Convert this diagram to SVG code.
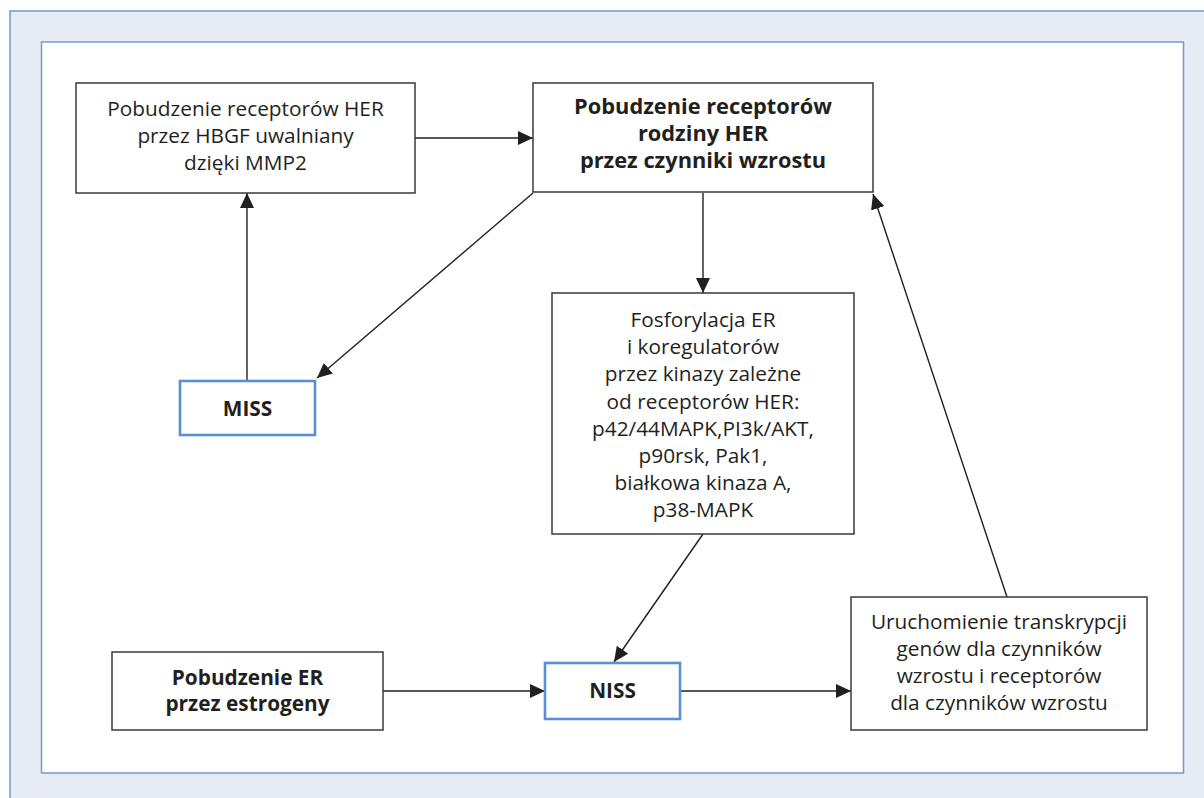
<svg xmlns="http://www.w3.org/2000/svg" width="1204" height="798" viewBox="0 0 1204 798">
<style>
.box{fill:#fff;stroke:#3a3a3a;stroke-width:1.5}
.hl{fill:#fff;stroke:#5b8fd0;stroke-width:2.6}
.t{font-family:"Open Sans","Liberation Sans",sans-serif;font-size:20.8px;fill:#231f20;text-anchor:middle}
.b{font-weight:bold}
.big{font-size:21.8px}
.c{stroke:#231f20;stroke-width:1.4;fill:none;marker-end:url(#ah)}
</style>
<defs>
<marker id="ah" markerUnits="userSpaceOnUse" markerWidth="16" markerHeight="14" refX="15" refY="7" orient="auto">
<path d="M0,0 L15,7 L0,14 Z" fill="#231f20"/>
</marker>
</defs>
<rect x="0" y="0" width="1204" height="798" fill="#fff"/>
<rect x="10" y="11" width="1204" height="798" fill="#e7ebf4" stroke="#6f9ad0" stroke-width="1.5"/>
<rect x="41.5" y="42" width="1142" height="731" fill="#fff" stroke="#6f9ad0" stroke-width="1.5"/>

<g id="connectors">
<line class="c" x1="415" y1="138" x2="533" y2="138"/>
<line class="c" x1="247" y1="381" x2="247" y2="193"/>
<line class="c" x1="533" y1="193" x2="317" y2="378"/>
<line class="c" x1="703" y1="193" x2="703" y2="293"/>
<line class="c" x1="703" y1="534" x2="614" y2="662"/>
<line class="c" x1="383" y1="691" x2="545" y2="691"/>
<line class="c" x1="680" y1="691" x2="851" y2="691"/>
<line class="c" x1="1007" y1="597" x2="873" y2="194"/>
</g>

<g id="n_hbgf">
<rect class="box" x="76" y="83" width="339" height="110"/>
<text class="t" x="245.5" y="116">Pobudzenie receptorów HER</text>
<text class="t" x="245.5" y="143">przez HBGF uwalniany</text>
<text class="t" x="245.5" y="170">dzięki MMP2</text>
</g>

<g id="n_her">
<rect class="box" x="533" y="83" width="340" height="109"/>
<text class="t b big" x="703" y="114">Pobudzenie receptorów</text>
<text class="t b big" x="703" y="141">rodziny HER</text>
<text class="t b big" x="703" y="168">przez czynniki wzrostu</text>
</g>

<g id="n_miss">
<rect class="hl" x="180" y="381" width="135" height="54"/>
<text class="t b" x="247.5" y="416">MISS</text>
</g>

<g id="n_fosf">
<rect class="box" x="552" y="293" width="302" height="241"/>
<text class="t" x="703" y="327">Fosforylacja ER</text>
<text class="t" x="703" y="354">i koregulatorów</text>
<text class="t" x="703" y="381">przez kinazy zależne</text>
<text class="t" x="703" y="409">od receptorów HER:</text>
<text class="t" x="703" y="436">p42/44MAPK,PI3k/AKT,</text>
<text class="t" x="703" y="463">p90rsk, Pak1,</text>
<text class="t" x="703" y="490">białkowa kinaza A,</text>
<text class="t" x="703" y="517">p38-MAPK</text>
</g>

<g id="n_er">
<rect class="box" x="112" y="652" width="271" height="78"/>
<text class="t b" x="247.5" y="685">Pobudzenie ER</text>
<text class="t b" x="247.5" y="711">przez estrogeny</text>
</g>

<g id="n_niss">
<rect class="hl" x="545" y="663" width="135" height="56"/>
<text class="t b" x="612.5" y="698">NISS</text>
</g>

<g id="n_trans">
<rect class="box" x="851" y="597" width="296" height="133"/>
<text class="t" x="999" y="629">Uruchomienie transkrypcji</text>
<text class="t" x="999" y="656">genów dla czynników</text>
<text class="t" x="999" y="683">wzrostu i receptorów</text>
<text class="t" x="999" y="710">dla czynników wzrostu</text>
</g>
</svg>
